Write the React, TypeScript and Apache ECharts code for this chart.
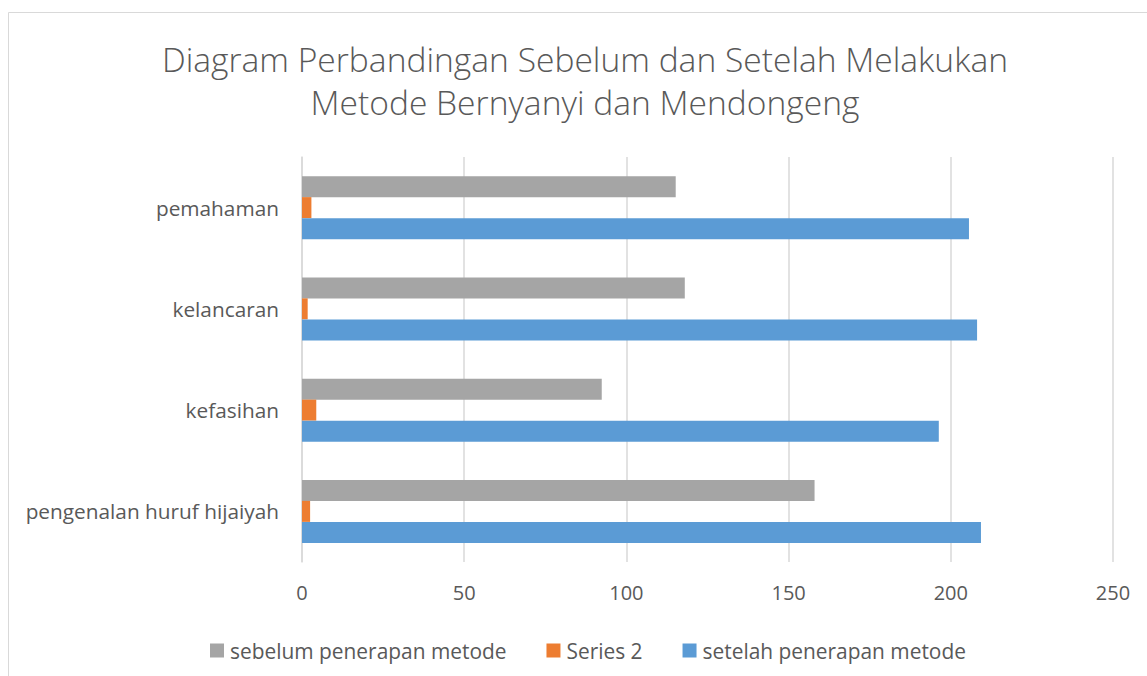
import React, { useEffect, useRef } from "react";
import * as echarts from "echarts";

const titleLines = ["Diagram Perbandingan Sebelum dan Setelah Melakukan", "Metode Bernyanyi dan Mendongeng"];
const categories = ["pengenalan huruf hijaiyah", "kefasihan", "kelancaran", "pemahaman"];
const sebelum = [158, 92.4, 118, 115.2];
const series2 = [2.5, 4.4, 1.75, 2.9];
const setelah = [209.3, 196.3, 208.1, 205.6];
const xTicks = [0, 50, 100, 150, 200, 250];
const seriesNames = ["sebelum penerapan metode", "Series 2", "setelah penerapan metode"];

const FONT = "Open Sans";
const TXT = "#595959";

export default function App() {
  const ref = useRef<HTMLDivElement>(null);
  useEffect(() => {
    document.body.style.margin = "0";
    const chart = echarts.init(ref.current!, null, { renderer: "svg" });
    chart.setOption({
      animation: false,
      backgroundColor: "#ffffff",
      textStyle: { fontFamily: FONT },
      title: {
        text: titleLines.join("\n"),
        left: 580,
        textAlign: "center",
        top: 32,
        textStyle: { fontFamily: FONT, fontWeight: 300, fontSize: 33.6, color: TXT, lineHeight: 43.4 },
      },
      graphic: [
        {
          type: "rect",
          shape: { x: 8.5, y: 12.5, width: 1200, height: 700 },
          style: { fill: "none", stroke: "#d9d9d9", lineWidth: 1 },
          silent: true,
        },
      ],
      legend: {
        data: seriesNames,
        left: 205,
        top: 635,
        itemWidth: 14,
        itemHeight: 14,
        itemGap: 40,
        icon: "rect",
        textStyle: { fontFamily: FONT, fontSize: 20.9, color: TXT, padding: [0, 0, 0, 1] },
      },
      grid: { left: 302, top: 157, right: 34, bottom: 114, containLabel: false },
      xAxis: {
        type: "value",
        min: xTicks[0],
        max: xTicks[xTicks.length - 1],
        interval: 50,
        axisLine: { show: false },
        axisTick: { show: false },
        axisLabel: { color: TXT, fontSize: 20, fontFamily: FONT, margin: 20 },
        splitLine: { show: true, lineStyle: { color: "#d9d9d9", width: 1.5 } },
      },
      yAxis: {
        type: "category",
        data: categories,
        axisLine: { show: true, lineStyle: { color: "#d9d9d9", width: 1.5 } },
        axisTick: { show: false },
        axisLabel: { color: TXT, fontSize: 20.8, fontFamily: FONT, margin: 23 },
        splitLine: { show: false },
      },
      series: [
        {
          name: seriesNames[0],
          type: "bar",
          data: sebelum,
          barWidth: 21,
          barGap: "0%",
          itemStyle: { color: "#A5A5A5" },
        },
        {
          name: seriesNames[1],
          type: "bar",
          data: series2,
          barWidth: 21,
          barGap: "0%",
          itemStyle: { color: "#ED7D31" },
        },
        {
          name: seriesNames[2],
          type: "bar",
          data: setelah,
          barWidth: 21,
          barGap: "0%",
          itemStyle: { color: "#5B9BD5" },
        },
      ],
    });
    return () => chart.dispose();
  }, []);
  return <div ref={ref} style={{ width: 1147, height: 676 }} />;
}
